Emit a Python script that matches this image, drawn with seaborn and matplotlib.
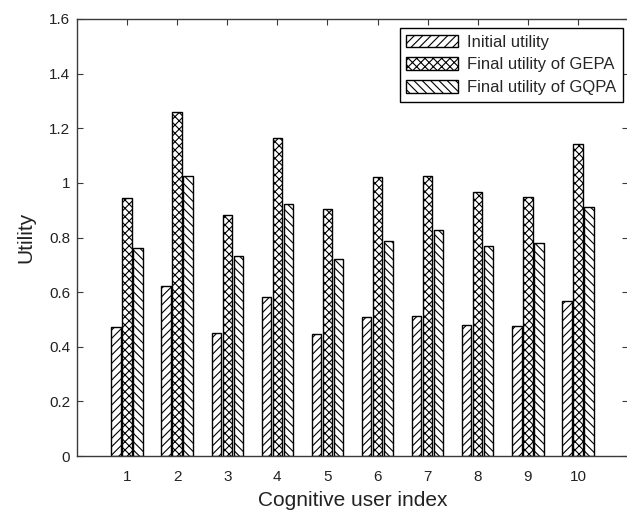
import matplotlib
matplotlib.use("Agg")
import matplotlib.pyplot as plt
import seaborn as sns
import pandas as pd

# Utility per cognitive user
users = [1, 2, 3, 4, 5, 6, 7, 8, 9, 10]
initial_utility = [0.473, 0.624, 0.452, 0.582, 0.447, 0.508, 0.513, 0.480, 0.475, 0.569]
gepa_utility = [0.944, 1.261, 0.882, 1.163, 0.906, 1.022, 1.026, 0.965, 0.948, 1.144]
gqpa_utility = [0.760, 1.026, 0.732, 0.924, 0.723, 0.788, 0.826, 0.770, 0.779, 0.912]
series_names = ["Initial utility", "Final utility of GEPA", "Final utility of GQPA"]
y_ticks = [0, 0.2, 0.4, 0.6, 0.8, 1, 1.2, 1.4, 1.6]
y_tick_labels = ["0", "0.2", "0.4", "0.6", "0.8", "1", "1.2", "1.4", "1.6"]

df = pd.DataFrame({
    "user": users * 3,
    "series": [series_names[0]] * 10 + [series_names[1]] * 10 + [series_names[2]] * 10,
    "utility": initial_utility + gepa_utility + gqpa_utility,
})

sns.set_style("ticks")
plt.rcParams["font.family"] = ["Liberation Sans", "DejaVu Sans"]
plt.rcParams["hatch.linewidth"] = 0.8
plt.rcParams["hatch.color"] = "black"

fig = plt.figure(figsize=(6.27, 5.13), dpi=100)
ax = fig.add_axes([77 / 627, 1 - 456 / 513, (628 - 77) / 627, (456 - 19) / 513])

sns.barplot(
    data=df, x="user", y="utility", hue="series", hue_order=series_names,
    palette=["white"] * 3, saturation=1, width=0.66, gap=0.14,
    edgecolor="black", linewidth=1.0, legend=False, ax=ax,
)

hatches = ["////", "xxxx", "\\\\\\\\"]
for container, hatch in zip(ax.containers, hatches):
    for bar in container:
        bar.set_hatch(hatch)
        bar.set_facecolor("white")
        bar.set_edgecolor("black")

ax.set_xlim(-1, 10)
ax.set_ylim(0, 1.6)
ax.set_yticks(y_ticks)
ax.set_yticklabels(y_tick_labels)
ax.set_xticks(range(len(users)))
ax.set_xticklabels([str(u) for u in users])

for side in ["left", "right", "top", "bottom"]:
    ax.spines[side].set_visible(True)
    ax.spines[side].set_color("#3a3a3a")
    ax.spines[side].set_linewidth(1.0)

ax.tick_params(direction="in", length=4, width=0.8, color="#3a3a3a",
               top=True, right=True, labelsize=11, labelcolor="#222222")
ax.tick_params(axis="x", pad=10)
ax.tick_params(axis="y", pad=5)

ax.set_xlabel("Cognitive user index", fontsize=15, color="#222222", labelpad=5)
ax.set_ylabel("Utility", fontsize=15, color="#222222", labelpad=10)

leg = ax.legend(ax.containers, series_names, loc="upper right",
                bbox_to_anchor=(0.991, 0.979), fontsize=12, frameon=True,
                fancybox=False, edgecolor="black", framealpha=1,
                handlelength=3.1, handleheight=0.78, handletextpad=0.55,
                labelspacing=0.45, borderpad=0.4, borderaxespad=0.0)
leg.get_frame().set_linewidth(1.0)

fig.savefig("out.png", dpi=100)
